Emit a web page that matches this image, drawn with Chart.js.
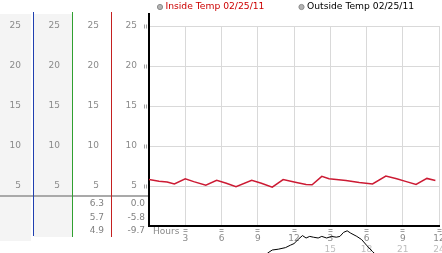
<!DOCTYPE html>
<html>
<head>
<meta charset="utf-8">
<script src="https://cdn.jsdelivr.net/npm/chart.js@4.4.1/dist/chart.umd.min.js"></script>
<style>
  html, body { margin: 0; padding: 0; background: #fff; }
</style>
</head>
<body>
<canvas id="chart" width="442" height="253"></canvas>
<script>
var seriesNames = ['Inside Temp 02/25/11', 'Outside Temp 02/25/11'];
var seriesColors = ['#cc0000', '#000000'];

var insideHours = [0, 0.83, 1.5, 2.1, 3.0, 3.7, 4.7, 5.6, 6.4, 7.2, 8.5, 9.3, 10.2, 11.1, 12.2, 13.0, 13.5, 14.3, 14.9, 16.3, 17.4, 18.5, 19.6, 20.5, 21.3, 22.1, 23.0, 23.7];
var insideTemps = [5.8, 5.6, 5.5, 5.25, 5.9, 5.55, 5.1, 5.7, 5.35, 4.9, 5.7, 5.35, 4.85, 5.8, 5.45, 5.2, 5.15, 6.2, 5.9, 5.7, 5.45, 5.25, 6.25, 5.9, 5.55, 5.2, 5.95, 5.7];

var outsideHours = [0, 1, 2, 3, 4, 5, 6, 7, 8, 9, 9.8, 10.2, 10.7, 11.3, 11.7, 12.0, 12.4, 12.7, 13.0, 13.3, 13.6, 14.0, 14.3, 14.7, 15.1, 15.5, 15.8, 16.1, 16.4, 16.7, 17.2, 17.6, 18.0, 18.5, 19, 20, 21, 22, 23, 24];
var outsideTemps = [-6.0, -6.6, -7.2, -7.9, -8.5, -9.1, -9.5, -9.7, -8.3, -5.6, -3.4, -3.0, -2.9, -2.7, -2.4, -2.2, -1.6, -1.2, -1.5, -1.3, -1.4, -1.5, -1.3, -1.5, -1.3, -1.4, -1.3, -0.8, -0.6, -0.9, -1.3, -1.7, -2.4, -3.2, -3.9, -5.0, -6.1, -7.0, -7.6, -8.0];

// max / avg / min
var insideStats = ['6.3', '5.7', '4.9'];
var outsideStats = ['0.0', '-5.8', '-9.7'];

var yTickLabels = ['', '5', '10', '15', '20', '25'];
var hourLabels = ['', '3', '6', '9', '12', '3', '6', '9', '12'];
var hour24Labels = ['', '', '', '', '', '15', '18', '21', '24'];

var FONT = 'DejaVu Sans';
var LABEL_GRAY = '#8a8a8a';
var BLUE = '#2040b0';
var GREEN = '#30a030';
var RED = '#c42020';

function toPoints(xs, ys) {
  return xs.map(function (x, i) { return { x: x, y: ys[i] }; });
}

function hideZero(color) {
  return function (ctx) {
    return ctx.tick && ctx.tick.value === 0 ? 'rgba(0,0,0,0)' : color;
  };
}

function sideAxis(weight, width, color) {
  return {
    type: 'linear',
    position: 'left',
    min: 0,
    max: 25,
    weight: weight,
    grid: { display: false, drawTicks: false },
    border: { display: true, color: color, width: 1 },
    ticks: {
      stepSize: 5,
      padding: 12,
      color: LABEL_GRAY,
      font: { family: FONT, size: 9 },
      callback: function (v, i) { return yTickLabels[i]; }
    },
    afterFit: function (scale) { scale.width = width; }
  };
}

var panelPlugin = {
  id: 'panel',
  beforeDraw: function (chart) {
    var ctx = chart.ctx, s = chart.scales;
    ctx.save();
    ctx.fillStyle = '#f4f4f4';
    ctx.fillRect(0, 14, s.yBlue.right - 2, 227);
    ctx.fillRect(s.yBlue.right + 1, 14, s.yGreen.right - s.yBlue.right - 1, 223);
    ctx.fillStyle = '#a9a9a9';
    ctx.fillRect(0, 195, s.y.right, 2);
    ctx.restore();
  },
  afterDraw: function (chart) {
    var ctx = chart.ctx, s = chart.scales, area = chart.chartArea;
    ctx.save();

    // axis lines run a little past the plot area
    [[s.yBlue, BLUE, 236], [s.yGreen, GREEN, 237], [s.yRed, RED, 237]].forEach(function (a) {
      var x = Math.floor(a[0].right);
      ctx.fillStyle = a[1];
      ctx.fillRect(x, 12, 1, a[2] - 12);
    });
    ctx.fillStyle = '#000';
    ctx.fillRect(Math.round(s.y.right) - 1, 13, 2, area.top - 13);

    // stats under the columns
    ctx.font = '9px ' + FONT;
    ctx.fillStyle = '#808080';
    ctx.textAlign = 'right';
    ctx.textBaseline = 'middle';
    var rows = [204, 218, 231];
    rows.forEach(function (y, i) {
      ctx.fillText(insideStats[i], s.yRed.right - 7, y);
      ctx.fillText(outsideStats[i], s.y.right - 4, y);
    });

    ctx.textAlign = 'left';
    ctx.fillStyle = LABEL_GRAY;
    ctx.fillText('Hours', area.left + 4, 232);

    // legend
    var legendX = [160, 301.5];
    ctx.font = '9.2px ' + FONT;
    seriesNames.forEach(function (name, i) {
      ctx.beginPath();
      ctx.arc(legendX[i], 7, 2.6, 0, Math.PI * 2);
      ctx.fillStyle = '#b4b4b4';
      ctx.fill();
      ctx.strokeStyle = '#8c8c8c';
      ctx.lineWidth = 1;
      ctx.stroke();
      ctx.fillStyle = seriesColors[i];
      ctx.fillText(name, legendX[i] + 5.5, 7);
    });
    ctx.restore();
  }
};

new Chart(document.getElementById('chart'), {
  type: 'line',
  data: {
    datasets: [
      {
        label: seriesNames[0],
        data: toPoints(insideHours, insideTemps),
        borderColor: '#cc1a33',
        borderWidth: 1.5,
        pointRadius: 0,
        tension: 0,
        xAxisID: 'x',
        yAxisID: 'y'
      },
      {
        label: seriesNames[1],
        data: toPoints(outsideHours, outsideTemps),
        borderColor: '#000000',
        borderWidth: 1,
        pointRadius: 0,
        tension: 0,
        clip: { left: 0, top: 0, right: 0, bottom: false },
        xAxisID: 'x',
        yAxisID: 'y'
      }
    ]
  },
  options: {
    responsive: false,
    animation: false,
    devicePixelRatio: 1,
    layout: { padding: { top: 26, right: 3, bottom: 0, left: 0 } },
    plugins: {
      legend: { display: false },
      tooltip: { enabled: false }
    },
    scales: {
      x: {
        type: 'linear',
        position: 'bottom',
        min: 0,
        max: 24,
        weight: 0,
        grid: {
          color: '#d9d9d9',
          tickLength: 7,
          tickWidth: 4,
          tickColor: hideZero('#a0a0a0'),
          tickBorderDash: [0, 2, 1, 1, 1, 1, 1, 9]
        },
        border: { color: '#000', width: 2 },
        ticks: {
          stepSize: 3,
          includeBounds: false,
          autoSkip: false,
          maxRotation: 0,
          padding: 0,
          color: LABEL_GRAY,
          font: { family: FONT, size: 9 },
          callback: function (v, i) { return hourLabels[i]; }
        },
        afterFit: function (scale) {
          scale.height = 17;
          scale.paddingLeft = 0;
          scale.paddingRight = 0;
        }
      },
      x2: {
        type: 'linear',
        position: 'bottom',
        min: 0,
        max: 24,
        weight: 1,
        grid: { display: false, drawTicks: false },
        border: { display: false },
        ticks: {
          stepSize: 3,
          includeBounds: false,
          autoSkip: false,
          maxRotation: 0,
          padding: 1,
          color: '#bdbdbd',
          font: { family: FONT, size: 9 },
          callback: function (v, i) { return hour24Labels[i]; }
        },
        afterFit: function (scale) {
          scale.height = 10;
          scale.paddingLeft = 0;
          scale.paddingRight = 0;
        }
      },
      y: {
        type: 'linear',
        position: 'left',
        min: 0,
        max: 25,
        weight: 0,
        grid: {
          color: '#d9d9d9',
          tickLength: 6,
          tickWidth: 4,
          tickColor: hideZero('#a0a0a0'),
          tickBorderDash: [0, 1, 1, 1, 1, 1, 1, 9]
        },
        border: { color: '#000', width: 2 },
        ticks: {
          stepSize: 5,
          padding: 6,
          color: LABEL_GRAY,
          font: { family: FONT, size: 9 },
          callback: function (v, i) { return yTickLabels[i]; }
        },
        afterFit: function (scale) { scale.width = 38; }
      },
      yRed: sideAxis(1, 39, RED),
      yGreen: sideAxis(2, 39, GREEN),
      yBlue: sideAxis(3, 33, BLUE)
    }
  },
  plugins: [panelPlugin]
});
</script>
</body>
</html>
